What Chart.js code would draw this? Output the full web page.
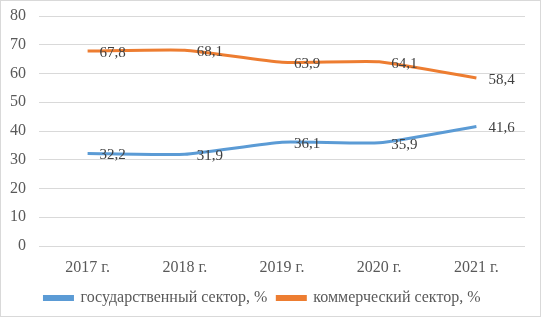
<!DOCTYPE html>
<html>
<head>
<meta charset="utf-8">
<script src="https://cdn.jsdelivr.net/npm/chart.js@4"></script>
<style>
  html, body { margin: 0; padding: 0; background: #fff; }
  #wrap { width: 541px; height: 317px; position: relative; }
</style>
</head>
<body>
<div id="wrap"><canvas id="chart"></canvas></div>
<script>
const years = ['2017 г.', '2018 г.', '2019 г.', '2020 г.', '2021 г.'];
const gosSector = [32.2, 31.9, 36.1, 35.9, 41.6];
const komSector = [67.8, 68.1, 63.9, 64.1, 58.4];
const seriesNames = ['государственный сектор, %', 'коммерческий сектор, %'];

const FONT = "'Liberation Serif', 'Times New Roman', serif";

// labels to the right of each point, comma as decimal sep
const pointLabels = {
  id: 'pointLabels',
  afterDatasetsDraw(chart) {
    const ctx = chart.ctx;
    ctx.save();
    ctx.font = '15px ' + FONT;
    ctx.fillStyle = '#404040';
    ctx.textAlign = 'left';
    ctx.textBaseline = 'middle';
    chart.data.datasets.forEach((ds, i) => {
      chart.getDatasetMeta(i).data.forEach((pt, j) => {
        ctx.fillText(ds.data[j].toFixed(1).replace('.', ','), pt.x + 12, pt.y + 2);
      });
    });
    ctx.restore();
  }
};

const frame = {
  id: 'frame',
  beforeDraw(chart) {
    const ctx = chart.ctx;
    ctx.save();
    ctx.fillStyle = '#fff';
    ctx.fillRect(0, 0, chart.width, chart.height);
    ctx.strokeStyle = '#d9d9d9';
    ctx.lineWidth = 1;
    ctx.strokeRect(0.5, 0.5, chart.width - 1, chart.height - 1);
    ctx.restore();
  }
};

new Chart(document.getElementById('chart'), {
  type: 'line',
  data: {
    labels: years,
    datasets: [{
      label: seriesNames[0],
      data: gosSector,
      borderColor: '#5b9bd5',
      backgroundColor: '#5b9bd5',
      borderWidth: 3,
      pointRadius: 0,
      tension: 0.15
    }, {
      label: seriesNames[1],
      data: komSector,
      borderColor: '#ed7d31',
      backgroundColor: '#ed7d31',
      borderWidth: 3,
      pointRadius: 0,
      tension: 0.15
    }]
  },
  options: {
    responsive: true,
    maintainAspectRatio: false,
    animation: false,
    layout: { padding: { top: 16, right: 16, bottom: 1, left: 0 } },
    plugins: {
      legend: {
        position: 'bottom',
        labels: {
          font: { family: FONT, size: 16 },
          color: '#595959',
          boxWidth: 28,
          boxHeight: 3,
          padding: 10
        }
      },
      tooltip: { enabled: false }
    },
    scales: {
      x: {
        offset: true,
        grid: { display: false, drawTicks: false },
        border: { display: false },
        ticks: { font: { family: FONT, size: 16 }, color: '#595959', padding: 12 },
        afterFit(scale) { scale.height = 34; scale.paddingLeft = 0; scale.paddingRight = 0; }
      },
      y: {
        min: 0,
        max: 80,
        ticks: { stepSize: 10, font: { family: FONT, size: 16 }, color: '#595959', padding: 13 },
        grid: { color: '#d9d9d9', drawTicks: false },
        border: { display: false },
        afterFit(scale) { scale.width = 39; scale.paddingTop = 0; scale.paddingBottom = 0; }
      }
    }
  },
  plugins: [frame, pointLabels]
});
</script>
</body>
</html>
